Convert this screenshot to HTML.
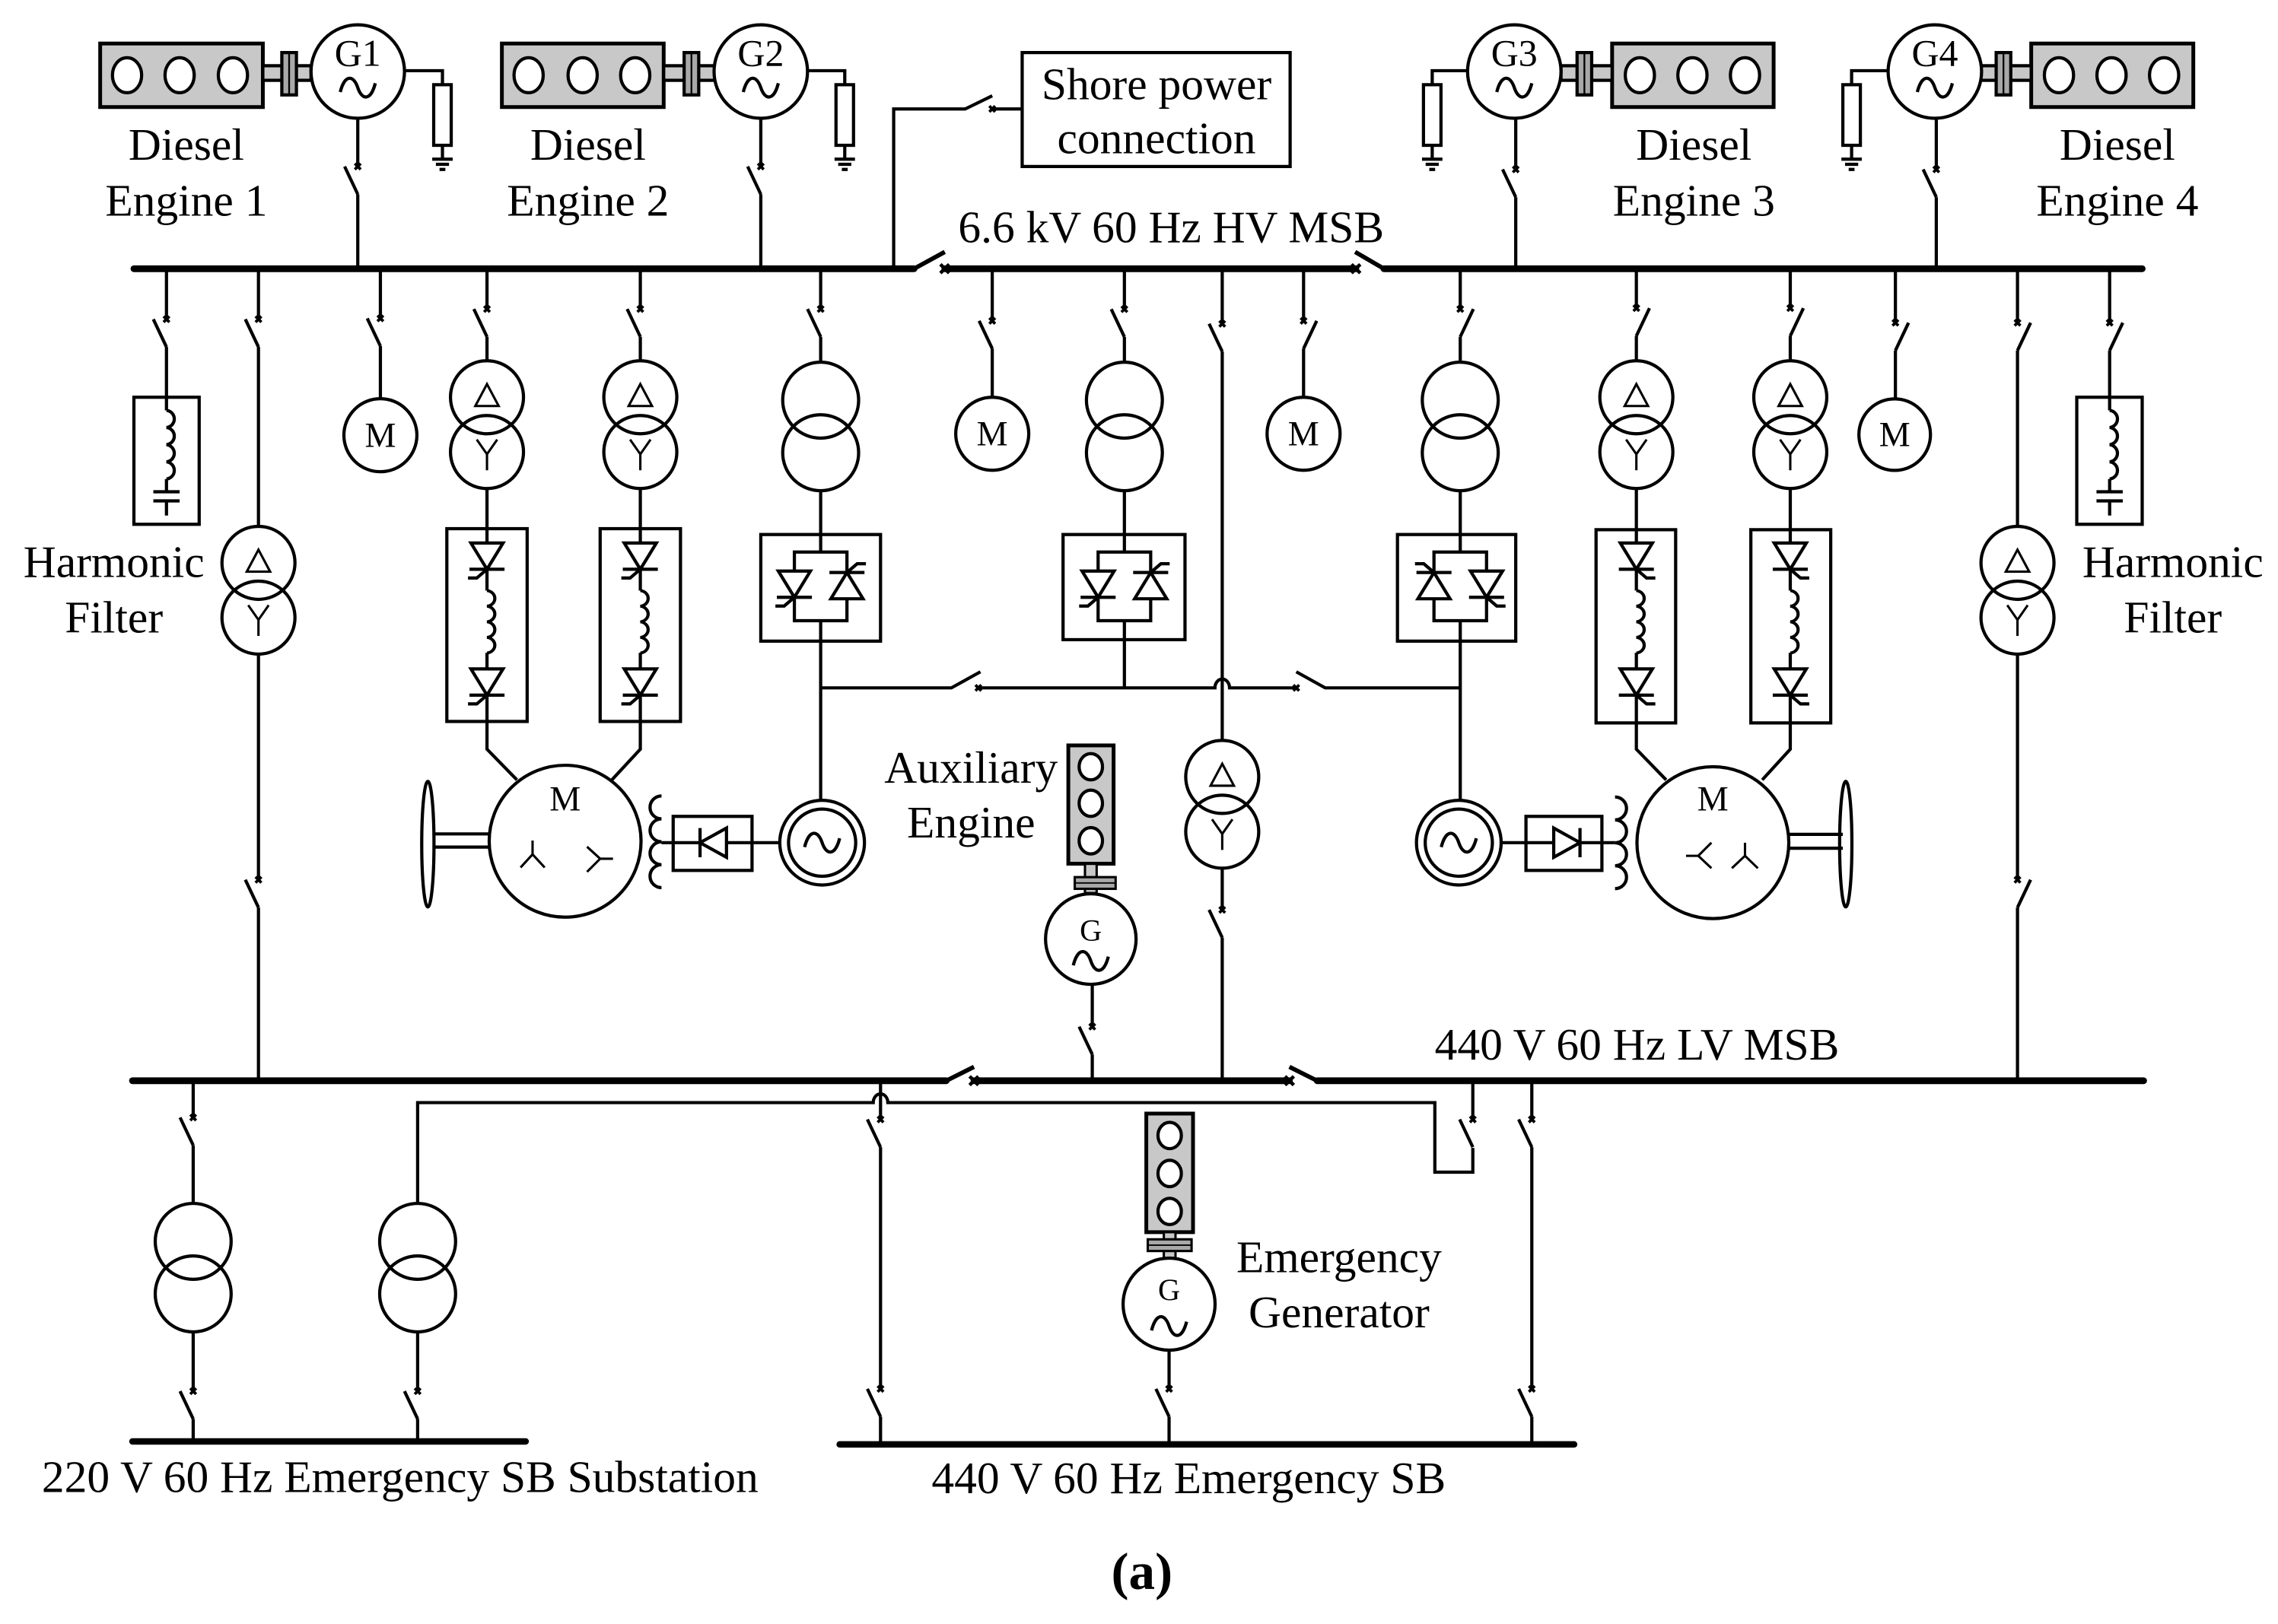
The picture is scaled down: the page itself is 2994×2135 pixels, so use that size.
<!DOCTYPE html>
<html><head><meta charset="utf-8"><style>
html,body{margin:0;padding:0;background:#fff;}
svg{display:block;}
text{font-family:"Liberation Serif","Times New Roman",serif;fill:#000;}
</style></head><body>
<svg xmlns="http://www.w3.org/2000/svg" width="2994" height="2135" viewBox="0 0 1560 1112" preserveAspectRatio="none">
<defs>
<g id="swL"><path d="M-9,0 L0,19"/><path d="M-2,-2 L2,2 M-2,2 L2,-2" stroke-width="2"/></g>
<g id="swR"><path d="M9,0 L0,19"/><path d="M-2,-2 L2,2 M-2,2 L2,-2" stroke-width="2"/></g>
<g id="thd"><path d="M-11,-18 H11 L0,0 Z" fill="#fff"/><path d="M-12,0 H12 M0,0 L-7,6 H-13"/></g>
<g id="dy"><circle cx="0" cy="0" r="25"/><circle cx="0" cy="37.5" r="25"/><path d="M0,-9 L8,6 H-8 Z" stroke-width="1.6"/><path d="M-7,29 L0,39 L7,29 M0,39 V50" stroke-width="1.6"/></g>
<g id="tr"><circle cx="0" cy="0" r="26"/><circle cx="0" cy="36" r="26"/></g>
<g id="coil4"><path d="M0,0 a5.9,5.9 0 0 1 0,11.75 a5.9,5.9 0 0 1 0,11.75 a5.9,5.9 0 0 1 0,11.75 a5.9,5.9 0 0 1 0,11.75"/></g>
<g id="tilde"><path d="M-12,3 C-9,-9 -3,-9 0,0 S9,9 12,-3"/></g>
<g id="gnd"><path d="M-7,0 H7 M-4.5,3.5 H4.5 M-2,7 H2" stroke-width="2.2"/></g>
</defs>
<g fill="none" stroke="#000" stroke-width="2.2" stroke-linejoin="miter">

<!-- ============ TOP GENERATORS ============ -->
<!-- G1 -->
<rect x="68.6" y="29.8" width="111.4" height="43.5" fill="#c8c8c8" stroke-width="2.6"/>
<ellipse cx="87" cy="51.5" rx="10" ry="12" fill="#fff"/><ellipse cx="123" cy="51.5" rx="10" ry="12" fill="#fff"/><ellipse cx="159.5" cy="51.5" rx="10" ry="12" fill="#fff"/>
<rect x="180" y="45" width="33" height="10" fill="#c8c8c8"/>
<rect x="193" y="36" width="10" height="29" fill="#a8a8a8"/><path d="M198,36 V65" stroke-width="1.2"/>
<circle cx="245" cy="49" r="32" fill="#fff"/>
<use href="#tilde" x="245" y="60"/>
<path d="M277,48.4 H303 V58"/><rect x="297" y="58" width="12" height="41.5"/><path d="M303,99.5 V109"/><use href="#gnd" x="303" y="109"/>
<path d="M245,81 V114"/><use href="#swL" x="245" y="114"/><path d="M245,133 V184"/>
<!-- G2 -->
<rect x="343.7" y="29.8" width="110.8" height="43.5" fill="#c8c8c8" stroke-width="2.6"/>
<ellipse cx="362" cy="51.5" rx="10" ry="12" fill="#fff"/><ellipse cx="399" cy="51.5" rx="10" ry="12" fill="#fff"/><ellipse cx="435" cy="51.5" rx="10" ry="12" fill="#fff"/>
<rect x="454.5" y="45" width="35" height="10" fill="#c8c8c8"/>
<rect x="468.5" y="36" width="10" height="29" fill="#a8a8a8"/><path d="M473.5,36 V65" stroke-width="1.2"/>
<circle cx="521" cy="49" r="32" fill="#fff"/>
<use href="#tilde" x="521" y="60"/>
<path d="M553,48.4 H578.5 V58"/><rect x="572.5" y="58" width="12" height="41.5"/><path d="M578.5,99.5 V109"/><use href="#gnd" x="578.5" y="109"/>
<path d="M521,81 V114"/><use href="#swL" x="521" y="114"/><path d="M521,133 V184"/>
<!-- G3 -->
<rect x="1104" y="29.8" width="110.6" height="43.5" fill="#c8c8c8" stroke-width="2.6"/>
<ellipse cx="1123" cy="51.5" rx="10" ry="12" fill="#fff"/><ellipse cx="1159" cy="51.5" rx="10" ry="12" fill="#fff"/><ellipse cx="1195" cy="51.5" rx="10" ry="12" fill="#fff"/>
<rect x="1069" y="45" width="35" height="10" fill="#c8c8c8"/>
<rect x="1080" y="36" width="10" height="29" fill="#a8a8a8"/><path d="M1085,36 V65" stroke-width="1.2"/>
<circle cx="1037" cy="49" r="32" fill="#fff"/>
<use href="#tilde" x="1037" y="60"/>
<path d="M1005,48.4 H980.8 V58"/><rect x="974.8" y="58" width="12" height="41.5"/><path d="M980.8,99.5 V109"/><use href="#gnd" x="980.8" y="109"/>
<path d="M1038,81 V116"/><use href="#swL" x="1038" y="116"/><path d="M1038,135 V184"/>
<!-- G4 -->
<rect x="1391" y="29.8" width="111" height="43.5" fill="#c8c8c8" stroke-width="2.6"/>
<ellipse cx="1410" cy="51.5" rx="10" ry="12" fill="#fff"/><ellipse cx="1446" cy="51.5" rx="10" ry="12" fill="#fff"/><ellipse cx="1482" cy="51.5" rx="10" ry="12" fill="#fff"/>
<rect x="1356" y="45" width="35" height="10" fill="#c8c8c8"/>
<rect x="1367" y="36" width="10" height="29" fill="#a8a8a8"/><path d="M1372,36 V65" stroke-width="1.2"/>
<circle cx="1325" cy="49" r="32" fill="#fff"/>
<use href="#tilde" x="1325" y="60"/>
<path d="M1293,48.4 H1268 V58"/><rect x="1262" y="58" width="12" height="41.5"/><path d="M1268,99.5 V109"/><use href="#gnd" x="1268" y="109"/>
<path d="M1326,81 V116"/><use href="#swL" x="1326" y="116"/><path d="M1326,135 V184"/>

<!-- Shore power -->
<rect x="700" y="36" width="183.5" height="78"/>
<path d="M612,184 V74.6 H661 L679.5,65.6"/><path d="M679.5,74.6 H700"/><path d="M677.5,72.6 L681.5,76.6 M677.5,76.6 L681.5,72.6" stroke-width="2"/>

<!-- ============ HV BUS ============ -->
<g stroke-width="4.6" stroke-linecap="round">
<path d="M91.7,184 H626"/><path d="M647,184 H928.5"/><path d="M947.7,184 H1467"/>
</g>
<path d="M626,184 L647,172.5" stroke-width="3"/><path d="M928,172.5 L947.7,184" stroke-width="3"/>
<path d="M644,181 L650,187 M644,187 L650,181 M925.5,181 L931.5,187 M925.5,187 L931.5,181" stroke-width="2.4"/>

<!-- ============ HV BRANCHES ============ -->
<!-- 115 harmonic filter -->
<path d="M114,184 V218.6"/><use href="#swL" x="114" y="218.6"/><path d="M114,237.6 V272"/>
<rect x="91.7" y="272" width="44.7" height="87"/>
<path d="M114,272 V281"/><use href="#coil4" x="114" y="281"/><path d="M114,328 V336.7 M105,336.7 H123 M105,343 H123 M114,343 V353"/>
<!-- 177 dy to LV -->
<path d="M177,184 V218.6"/><use href="#swL" x="177" y="218.6"/><path d="M177,237.6 V360.7"/>
<use href="#dy" x="177" y="385.4"/>
<path d="M177,447.9 V602.4"/><use href="#swL" x="177" y="602.4"/><path d="M177,621.4 V740"/>
<!-- 260.5 M -->
<path d="M260.5,184 V218"/><use href="#swL" x="260.5" y="218"/><path d="M260.5,237 V273"/>
<circle cx="260.5" cy="298" r="25"/>
<!-- 333.5 -->
<path d="M333.5,184 V211.6"/><use href="#swL" x="333.5" y="211.6"/><path d="M333.5,230.6 V247"/>
<use href="#dy" x="333.5" y="272"/>
<rect x="306" y="362" width="55" height="132"/>
<path d="M333.5,334.5 V371 M333.5,389.8 V404.4 M333.5,447 V457.2 M333.5,476 V513 L354,534"/>
<use href="#thd" x="333.5" y="389.8"/><use href="#coil4" x="333.5" y="404.4" transform="translate(333.5,404.4) scale(1,0.91) translate(-333.5,-404.4)"/><use href="#thd" x="333.5" y="476"/>
<!-- 438.5 -->
<path d="M438.5,184 V211.6"/><use href="#swL" x="438.5" y="211.6"/><path d="M438.5,230.6 V247"/>
<use href="#dy" x="438.5" y="272"/>
<rect x="411" y="362" width="55" height="132"/>
<path d="M438.5,334.5 V371 M438.5,389.8 V404.4 M438.5,447 V457.2 M438.5,476 V513 L419,534"/>
<use href="#thd" x="438.5" y="389.8"/><use href="#coil4" x="438.5" y="404.4" transform="translate(438.5,404.4) scale(1,0.91) translate(-438.5,-404.4)"/><use href="#thd" x="438.5" y="476"/>
<!-- 562 converter -->
<path d="M562,184 V211.6"/><use href="#swL" x="562" y="211.6"/><path d="M562,230.6 V248"/>
<use href="#tr" x="562" y="274"/>
<rect x="521" y="366" width="82" height="73"/>
<path d="M562,336 V378 M544,378 H580 V425 H544 Z M562,425 V548"/>
<use href="#thd" x="544" y="409"/>
<use href="#thd" transform="translate(580,392) scale(-1,-1)"/>
<!-- 679.5 M -->
<path d="M679.5,184 V219.7"/><use href="#swL" x="679.5" y="219.7"/><path d="M679.5,238.7 V272"/>
<circle cx="679.5" cy="297" r="25"/>
<!-- 770 converter -->
<path d="M770,184 V211.7"/><use href="#swL" x="770" y="211.7"/><path d="M770,230.7 V248"/>
<use href="#tr" x="770" y="274"/>
<rect x="728" y="366" width="83.5" height="72"/>
<path d="M770,336 V378 M752,378 H788 V425 H752 Z M770,425 V471"/>
<use href="#thd" x="752" y="409"/>
<use href="#thd" transform="translate(788,392) scale(-1,-1)"/>
<!-- 837 line to LV -->
<path d="M837,184 V221.7"/><use href="#swL" x="837" y="221.7"/><path d="M837,240.7 V507"/>
<use href="#dy" x="837" y="532"/>
<path d="M837,594.5 V623"/><use href="#swL" x="837" y="623"/><path d="M837,642 V740"/>
<!-- 892.7 M -->
<path d="M892.7,184 V219.7"/><use href="#swR" x="892.7" y="219.7"/><path d="M892.7,238.7 V272"/>
<circle cx="892.7" cy="297" r="25"/>
<!-- 1000 converter -->
<path d="M1000,184 V211.6"/><use href="#swR" x="1000" y="211.6"/><path d="M1000,230.6 V248"/>
<use href="#tr" x="1000" y="274"/>
<rect x="957" y="366" width="81" height="73"/>
<path d="M1000,336 V378 M982,378 H1018 V425 H982 Z M1000,425 V548"/>
<use href="#thd" transform="translate(982,392) scale(1,-1)"/>
<use href="#thd" transform="translate(1018,409) scale(-1,1)"/>
<!-- 1120.6 -->
<path d="M1120.6,184 V211"/><use href="#swR" x="1120.6" y="211"/><path d="M1120.6,230 V247"/>
<use href="#dy" x="1120.6" y="272"/>
<rect x="1093" y="362.7" width="54.5" height="132.3"/>
<path d="M1120.6,334.5 V371 M1120.6,389.8 V404.4 M1120.6,447 V457.2 M1120.6,476 V513 L1141,534"/>
<use href="#thd" transform="translate(1120.6,389.8) scale(-1,1)"/><use href="#coil4" x="1120.6" y="404.4" transform="translate(1120.6,404.4) scale(1,0.91) translate(-1120.6,-404.4)"/><use href="#thd" transform="translate(1120.6,476) scale(-1,1)"/>
<!-- 1226 -->
<path d="M1226,184 V211"/><use href="#swR" x="1226" y="211"/><path d="M1226,230 V247"/>
<use href="#dy" x="1226" y="272"/>
<rect x="1199" y="362.7" width="54.7" height="132.3"/>
<path d="M1226,334.5 V371 M1226,389.8 V404.4 M1226,447 V457.2 M1226,476 V513 L1206.8,534"/>
<use href="#thd" transform="translate(1226,389.8) scale(-1,1)"/><use href="#coil4" x="1226" y="404.4" transform="translate(1226,404.4) scale(1,0.91) translate(-1226,-404.4)"/><use href="#thd" transform="translate(1226,476) scale(-1,1)"/>
<!-- 1298 M -->
<path d="M1298,184 V221"/><use href="#swR" x="1298" y="221"/><path d="M1298,240 V273"/>
<circle cx="1297.5" cy="297.6" r="24.5"/>
<!-- 1381.6 dy to LV -->
<path d="M1381.6,184 V221"/><use href="#swR" x="1381.6" y="221"/><path d="M1381.6,240 V360.7"/>
<use href="#dy" x="1381.6" y="385.4"/>
<path d="M1381.6,447.9 V602.4"/><use href="#swR" x="1381.6" y="602.4"/><path d="M1381.6,621.4 V740"/>
<!-- 1444.7 filter -->
<path d="M1444.7,184 V221"/><use href="#swR" x="1444.7" y="221"/><path d="M1444.7,240 V272"/>
<rect x="1422.2" y="272" width="44.8" height="87"/>
<path d="M1444.7,272 V281"/><use href="#coil4" x="1444.7" y="281"/><path d="M1444.7,328 V336.7 M1435.7,336.7 H1453.7 M1435.7,343 H1453.7 M1444.7,343 V353"/>

<!-- horizontal tie at 471 -->
<path d="M562,471 H651.5 L671.4,460"/>
<path d="M670,471 H832 A5,6 0 0 1 842,471 H887.7"/>
<path d="M887.7,460 L907.5,471 H1000"/>
<path d="M668,469 L672,473 M668,473 L672,469 M885.7,469 L889.7,473 M885.7,473 L889.7,469" stroke-width="2"/>

<!-- ============ LEFT PROPULSION ============ -->
<circle cx="387" cy="576" r="52"/>
<path d="M297,571 H335 M297,580 H335"/>
<ellipse cx="293" cy="578" rx="4.2" ry="43"/>
<path d="M364.7,575.5 V585 L356.5,594 M364.7,585 L373,594" stroke-width="1.6"/>
<path d="M419.8,588 H411 L402,579.8 M411,588 L402,597" stroke-width="1.6"/>
<path d="M453,545 a7.8,7.8 0 0 0 0,15.7 a7.8,7.8 0 0 0 0,15.7 a7.8,7.8 0 0 0 0,15.7 a7.8,7.8 0 0 0 0,15.7"/>
<path d="M453,577 H534"/>
<rect x="461" y="559" width="54" height="37" fill="none"/>
<path d="M479.4,577 L497.5,567 V587 Z" fill="#fff"/><path d="M479.4,567 V587"/>
<circle cx="563" cy="577" r="29"/><circle cx="563" cy="577" r="23"/>
<use href="#tilde" x="563" y="577"/>

<!-- ============ RIGHT PROPULSION ============ -->
<circle cx="1173" cy="577" r="52"/>
<path d="M1224,571.3 H1262 M1224,580.8 H1262"/>
<ellipse cx="1264" cy="578" rx="4.2" ry="43"/>
<path d="M1195,577 V586 L1186,594.5 M1195,586 L1203.8,594.5" stroke-width="1.6"/>
<path d="M1154.6,586 H1163 L1172,577 M1163,586 L1172,594.5" stroke-width="1.6"/>
<path d="M1106,545.7 a7.8,7.8 0 0 1 0,15.7 a7.8,7.8 0 0 1 0,15.7 a7.8,7.8 0 0 1 0,15.7 a7.8,7.8 0 0 1 0,15.7"/>
<path d="M1028,577 H1106"/>
<rect x="1045" y="559" width="52" height="37"/>
<path d="M1082,577 L1064,567 V587 Z" fill="#fff"/><path d="M1082,567 V587"/>
<circle cx="999" cy="577" r="29"/><circle cx="999" cy="577" r="23"/>
<use href="#tilde" x="999" y="577"/>

<!-- ============ AUX ENGINE ============ -->
<rect x="731.6" y="510.4" width="31" height="81" fill="#c8c8c8" stroke-width="2.6"/>
<ellipse cx="747" cy="525" rx="8" ry="9" fill="#fff"/><ellipse cx="747" cy="550" rx="8" ry="9" fill="#fff"/><ellipse cx="747" cy="575.7" rx="8" ry="9" fill="#fff"/>
<rect x="743" y="591.5" width="8" height="20" fill="#c8c8c8" stroke-width="1.6"/>
<rect x="736" y="600.6" width="28" height="8" fill="#a8a8a8" stroke-width="1.6"/><path d="M736,604.6 H764" stroke-width="1"/>
<circle cx="747" cy="643" r="31" fill="#fff"/>
<use href="#tilde" x="747" y="658"/>
<path d="M748,674 V703"/><use href="#swL" x="748" y="703"/><path d="M748,722 V740"/>

<!-- ============ LV BUS ============ -->
<g stroke-width="4.6" stroke-linecap="round">
<path d="M90.7,740 H648"/><path d="M667,740 H883"/><path d="M902,740 H1468"/>
</g>
<path d="M648,740 L667,730.5" stroke-width="3"/><path d="M883,730.5 L902,740" stroke-width="3"/>
<path d="M664,737 L670,743 M664,743 L670,737 M880,737 L886,743 M880,743 L886,737" stroke-width="2.4"/>

<!-- line at 755 with U-route -->
<path d="M286,824 V755 H598 A5,6 0 0 1 608,755 H982.6 V802.6 H1008.6 V786"/>
<path d="M1008.6,740 V766.5"/><use href="#swL" x="1008.6" y="766.5"/>

<!-- 132 -->
<path d="M132.3,740 V765.2"/><use href="#swL" x="132.3" y="765.2"/><path d="M132.3,784.2 V824"/>
<use href="#tr" x="132.3" y="850"/>
<path d="M132.3,912 V952.6"/><use href="#swL" x="132.3" y="952.6"/><path d="M132.3,971.6 V987"/>
<!-- 286 -->
<use href="#tr" x="286" y="850"/>
<path d="M286,912 V952.6"/><use href="#swL" x="286" y="952.6"/><path d="M286,971.6 V987"/>
<!-- 603 -->
<path d="M603,740 V766.5"/><use href="#swL" x="603" y="766.5"/><path d="M603,785.5 V951"/><use href="#swL" x="603" y="951"/><path d="M603,970 V989"/>
<!-- 1049 -->
<path d="M1049,740 V766.5"/><use href="#swL" x="1049" y="766.5"/><path d="M1049,785.5 V951"/><use href="#swL" x="1049" y="951"/><path d="M1049,970 V989"/>

<!-- Emergency generator -->
<rect x="785" y="762.5" width="32" height="81.2" fill="#c8c8c8" stroke-width="2.6"/>
<ellipse cx="801" cy="777.5" rx="8" ry="9" fill="#fff"/><ellipse cx="801" cy="803.5" rx="8" ry="9" fill="#fff"/><ellipse cx="801" cy="829.5" rx="8" ry="9" fill="#fff"/>
<rect x="797" y="843.7" width="8" height="18" fill="#c8c8c8" stroke-width="1.6"/>
<rect x="786" y="848.6" width="30" height="8" fill="#a8a8a8" stroke-width="1.6"/><path d="M786,852.6 H816" stroke-width="1"/>
<circle cx="800.6" cy="893" r="31.5" fill="#fff"/>
<use href="#tilde" x="800.6" y="908"/>
<path d="M800.6,924.5 V951"/><use href="#swL" x="800.6" y="951"/><path d="M800.6,970 V989"/>

<!-- lower buses -->
<g stroke-width="4.4" stroke-linecap="round">
<path d="M90.7,987 H360"/>
<path d="M575,989 H1078"/>
</g>
</g>

<!-- ============ TEXT ============ -->
<g font-size="31" text-anchor="middle">
<text x="127.6" y="109.3">Diesel</text><text x="127.6" y="147.7">Engine 1</text>
<text x="402.7" y="109.3">Diesel</text><text x="402.7" y="147.7">Engine 2</text>
<text x="1160" y="109.3">Diesel</text><text x="1160" y="147.7">Engine 3</text>
<text x="1450" y="109.3">Diesel</text><text x="1450" y="147.7">Engine 4</text>
<text x="792" y="68">Shore power</text><text x="792" y="105">connection</text>
<text x="802" y="166">6.6 kV 60 Hz HV MSB</text>
<text x="78" y="395">Harmonic</text><text x="78" y="433">Filter</text>
<text x="1488" y="395">Harmonic</text><text x="1488" y="433">Filter</text>
<text x="665" y="536">Auxiliary</text><text x="665" y="573.4">Engine</text>
<text x="1121" y="725.5">440 V 60 Hz LV MSB</text>
<text x="917" y="871">Emergency</text><text x="917" y="909">Generator</text>
<text x="274" y="1021.7">220 V 60 Hz Emergency SB Substation</text>
<text x="814" y="1022.4">440 V 60 Hz Emergency SB</text>
</g>
<g font-size="26" text-anchor="middle">
<text x="245" y="45">G1</text><text x="521" y="45">G2</text><text x="1037" y="45">G3</text><text x="1325" y="45">G4</text>
</g>
<g font-size="24" text-anchor="middle">
<text x="387" y="555">M</text><text x="1173" y="555">M</text>
<text x="260.5" y="306">M</text><text x="679.5" y="305">M</text><text x="892.7" y="305">M</text><text x="1297.5" y="305.6">M</text>
</g>
<g font-size="21" text-anchor="middle">
<text x="747" y="644">G</text><text x="800.6" y="890">G</text>
</g>
<text x="782" y="1088" font-size="36" font-weight="bold" text-anchor="middle">(a)</text>
</svg>
</body></html>
